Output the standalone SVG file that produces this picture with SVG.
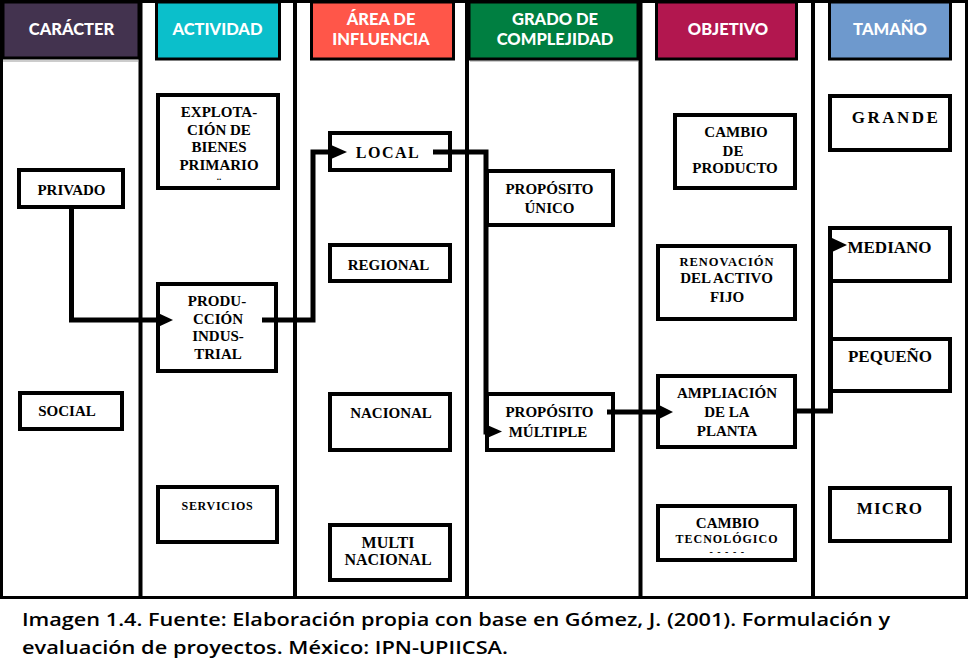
<svg xmlns="http://www.w3.org/2000/svg" width="970" height="661" viewBox="0 0 970 661">
<defs>
<style>
.hd{font-family:Lato,"Open Sans","Liberation Sans",sans-serif;font-weight:900;font-size:16.5px;fill:#fff;text-anchor:middle}
.hb{stroke:#000;stroke-width:3}
.nb{fill:#fff;stroke:#000;stroke-width:4}
.t{font-family:"Liberation Serif","DejaVu Serif",serif;font-weight:bold;font-size:15px;fill:#000;text-anchor:middle}
.cn{fill:none;stroke:#000;stroke-width:5;stroke-linejoin:miter}
.cap{font-family:"Open Sans","Liberation Sans",sans-serif;font-weight:600;font-size:18.5px;fill:#000}
</style>
</defs>
<rect width="970" height="661" fill="#fff"/>
<g id="frame">
<rect x="1.5" y="1.5" width="965" height="596" fill="none" stroke="#000" stroke-width="3"/>
<g stroke="#000" stroke-width="4">
<line x1="140.5" y1="0" x2="140.5" y2="599"/>
<line x1="295" y1="0" x2="295" y2="599"/>
<line x1="467" y1="0" x2="467" y2="599"/>
<line x1="640.5" y1="0" x2="640.5" y2="599"/>
<line x1="813" y1="0" x2="813" y2="599"/>
</g>
<line x1="3" y1="61" x2="138" y2="61" stroke="#999" stroke-width="1"/>
<line x1="470" y1="61" x2="638" y2="61" stroke="#999" stroke-width="1"/>
</g>
<g id="headers">
<g id="h-caracter"><rect class="hb" x="3" y="2" width="136" height="56" fill="#43334F"/><text class="hd" x="71.5" y="35">CARÁCTER</text></g>
<g id="h-actividad"><rect class="hb" x="156.5" y="2" width="123" height="57" fill="#0BBFCB"/><text class="hd" x="217.5" y="35">ACTIVIDAD</text></g>
<g id="h-area"><rect class="hb" x="311.5" y="2" width="142" height="57" fill="#FF5649"/><text class="hd" x="381" y="25">ÁREA DE</text><text class="hd" x="381" y="45">INFLUENCIA</text></g>
<g id="h-grado"><rect class="hb" x="469" y="2" width="169" height="57" fill="#007F41"/><text class="hd" x="555" y="25">GRADO DE</text><text class="hd" x="555" y="45">COMPLEJIDAD</text></g>
<g id="h-objetivo"><rect class="hb" x="656.5" y="2" width="140" height="57" fill="#B2174F"/><text class="hd" x="728" y="35">OBJETIVO</text></g>
<g id="h-tamano"><rect class="hb" x="829.5" y="2" width="121" height="57" fill="#6E99CD"/><text class="hd" x="890" y="35">TAMAÑO</text></g>
</g>
<g id="privado"><rect class="nb" x="19" y="170" width="104" height="37"/><text class="t" x="71.5" y="195">PRIVADO</text></g>
<g id="social"><rect class="nb" x="20" y="393" width="102" height="36"/><text class="t" x="67" y="416">SOCIAL</text></g>
<g id="explotacion"><rect class="nb" x="158" y="95" width="120" height="93"/>
<text class="t" x="219" y="117">EXPLOTA-</text><text class="t" x="219" y="134.5">CIÓN DE</text><text class="t" x="219" y="152">BIENES</text><text class="t" x="219" y="169.5">PRIMARIO</text><text class="t" x="219" y="180" style="font-size:9px">..</text></g>
<g id="produccion"><rect class="nb" x="158" y="284" width="118" height="87"/>
<text class="t" x="217" y="306">PRODU-</text><text class="t" x="218" y="323.5">CCIÓN</text><text class="t" x="218" y="341">INDUS-</text><text class="t" x="218" y="358.5">TRIAL</text></g>
<g id="servicios"><rect class="nb" x="158" y="487" width="119" height="55"/><text class="t" x="217.5" y="510" style="font-size:12px;letter-spacing:0.7px">SERVICIOS</text></g>
<g id="local"><rect class="nb" x="330" y="133" width="120" height="37"/><text class="t" x="388" y="158" style="font-size:16px;letter-spacing:1.5px">LOCAL</text></g>
<g id="regional"><rect class="nb" x="330" y="245" width="120" height="36"/><text class="t" x="388.5" y="270">REGIONAL</text></g>
<g id="nacional"><rect class="nb" x="330" y="394" width="120" height="56"/><text class="t" x="391" y="418">NACIONAL</text></g>
<g id="multinacional"><rect class="nb" x="330" y="525" width="120" height="55"/><text class="t" x="388" y="548" style="font-size:16px">MULTI</text><text class="t" x="388" y="565" style="font-size:16px">NACIONAL</text></g>
<g id="proposito-unico"><rect class="nb" x="487" y="171" width="126" height="54"/><text class="t" x="549.5" y="194">PROPÓSITO</text><text class="t" x="549.5" y="213">ÚNICO</text></g>
<g id="proposito-multiple"><rect class="nb" x="487" y="394" width="126" height="56"/><text class="t" x="549.5" y="417">PROPÓSITO</text><text class="t" x="548" y="437">MÚLTIPLE</text></g>
<g id="cambio-producto"><rect class="nb" x="675" y="115" width="120" height="73"/><text class="t" x="736" y="137">CAMBIO</text><text class="t" x="733" y="156">DE</text><text class="t" x="735" y="173">PRODUCTO</text></g>
<g id="renovacion"><rect class="nb" x="658" y="246" width="137" height="73"/><text class="t" x="727" y="266" style="font-size:12.5px;letter-spacing:1px">RENOVACIÓN</text><text class="t" x="726.5" y="283">DEL ACTIVO</text><text class="t" x="727" y="302">FIJO</text></g>
<g id="ampliacion"><rect class="nb" x="658" y="376" width="137" height="71"/><text class="t" x="727" y="398">AMPLIACIÓN</text><text class="t" x="727" y="417">DE LA</text><text class="t" x="727" y="436">PLANTA</text></g>
<g id="cambio-tecnologico"><rect class="nb" x="658" y="506" width="137" height="54"/><text class="t" x="727.5" y="528">CAMBIO</text><text class="t" x="727" y="543" style="font-size:12px;letter-spacing:1px">TECNOLÓGICO</text><text class="t" x="729" y="555" style="font-size:10px;letter-spacing:4.5px">-----</text></g>
<g id="grande"><rect class="nb" x="830" y="96" width="120" height="54"/><text class="t" x="896" y="123" style="font-size:17px;letter-spacing:2.5px">GRANDE</text></g>
<g id="mediano"><rect class="nb" x="830" y="228" width="120" height="53"/><text class="t" x="889.5" y="253" style="font-size:17px">MEDIANO</text></g>
<g id="pequeno"><rect class="nb" x="830" y="339" width="120" height="52"/><text class="t" x="890" y="362" style="font-size:17px">PEQUEÑO</text></g>
<g id="micro"><rect class="nb" x="830" y="488" width="120" height="53"/><text class="t" x="890" y="514" style="font-size:17px;letter-spacing:1.2px">MICRO</text></g>
<g id="connectors">
<path class="cn" d="M71.5,207 V320 H160"/>
<polygon points="157,312.5 173,320 157,327.5"/>
<path class="cn" d="M262,320 H313 V152 H332"/>
<polygon points="330,144.5 347,152 330,159.5"/>
<path class="cn" d="M433,152 H486 V432 H488"/>
<polygon points="486,424.5 502,431.5 486,438.5"/>
<path class="cn" d="M607,412 H660"/>
<polygon points="658,404.5 673,412 658,419.5"/>
<path class="cn" d="M797,411 H830.5 V245 H834"/>
<polygon points="832,238 847,245 832,252"/>
</g>
<g id="caption">
<text class="cap" x="22" y="626" textLength="868" lengthAdjust="spacingAndGlyphs">Imagen 1.4. Fuente: Elaboración propia con base en Gómez, J. (2001). Formulación y</text>
<text class="cap" x="22" y="654" textLength="486" lengthAdjust="spacingAndGlyphs">evaluación de proyectos. México: IPN-UPIICSA.</text>
</g>
</svg>
